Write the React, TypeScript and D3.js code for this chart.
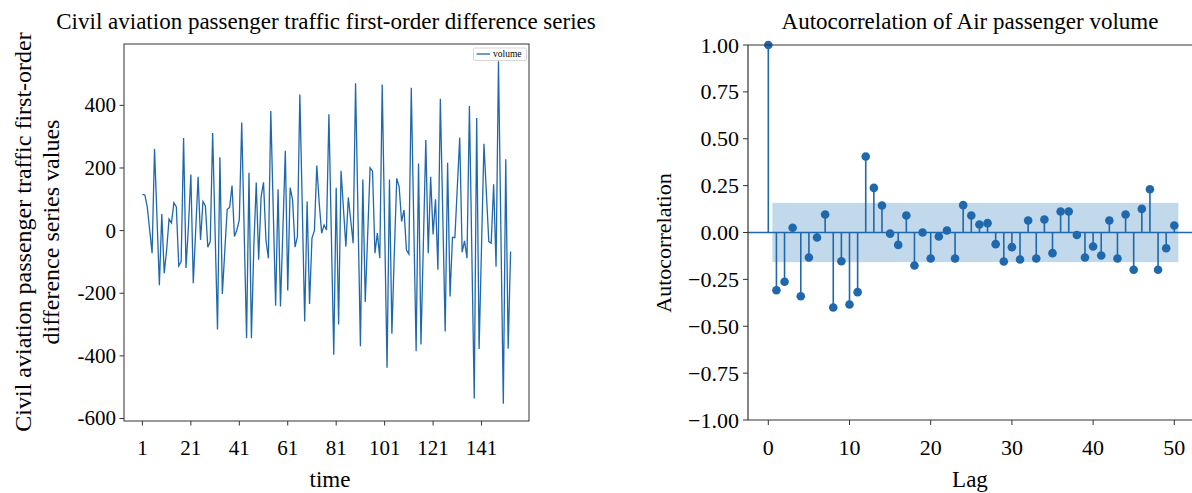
import React from "react";
import * as d3 from "d3";

// ---- Left chart data: first-order difference series (t = 1..153) ----
const diffValues: number[] = [
  116, 114, 76, 2, -72, 261, 45, -174, 53, -136,
  -62, 37, 25, 89, 76, -113, -99, 296, -119, 13,
  179, -168, 2, 172, -30, 93, 79, -53, -35, 312,
  -2, -316, 234, -202, -67, 68, 74, 144, -19, 2,
  34, 345, 1, -344, 185, -344, -51, 154, -93, 108,
  154, -30, -88, 382, 71, -240, 132, -242, 6, 255,
  -191, 137, 98, -53, -19, 435, 76, -290, 93, -234,
  -24, 0, 208, 87, -8, 18, 2, 372, -13, -396,
  137, -300, 191, 70, -51, 106, 33, -40, 471, 51,
  -369, 163, -228, -14, 201, 190, -72, -8, -88, 467,
  13, -438, 163, -329, -72, 167, 140, 29, 66, -62,
  -75, 456, 34, -385, 214, -364, -38, 289, -72, 172,
  -12, 100, -125, 421, 50, -322, 217, -210, -22, -22,
  138, 297, -69, -33, -88, 398, -69, -536, 360, -378,
  -51, 277, 121, -35, -40, 148, -115, 541, -6, -553,
  228, -377, -67,
];
const timeTicks: number[] = [1, 21, 41, 61, 81, 101, 121, 141];
const diffYTicks: number[] = [400, 200, 0, -200, -400, -600];

// ---- Right chart data: autocorrelation, lags 0..50 ----
const acfValues: number[] = [
  1.0, -0.308, -0.263, 0.025, -0.34, -0.133, -0.027, 0.096, -0.4, -0.153,
  -0.384, -0.318, 0.405, 0.238, 0.144, -0.006, -0.066, 0.091, -0.176, 0.0,
  -0.139, -0.021, 0.011, -0.139, 0.146, 0.091, 0.043, 0.05, -0.062, -0.155,
  -0.078, -0.144, 0.064, -0.139, 0.069, -0.11, 0.112, 0.112, -0.013, -0.133,
  -0.075, -0.123, 0.064, -0.139, 0.096, -0.199, 0.126, 0.231, -0.199, -0.084,
  0.037,
];
const confBound = 0.158;
const lagTicks: number[] = [0, 10, 20, 30, 40, 50];
const acfYTicks: number[] = [1, 0.75, 0.5, 0.25, 0, -0.25, -0.5, -0.75, -1];

const FONT = "Liberation Serif";
const BLUE = "#1f68ad";
const AXIS = "#333";

const T = (props: any) => (
  <text fontFamily={FONT} fill="#000" {...props} />
);

export default function App() {
  // left chart scales
  const lx = d3.scaleLinear().domain([-6.6, 160.6]).range([124, 529]);
  const ly = d3.scaleLinear().domain([-608, 596]).range([421, 44]);
  const line = d3
    .line<number>()
    .x((_, i) => lx(i + 1))
    .y((d) => ly(d));

  // right chart scales
  const rx = d3.scaleLinear().domain([-2.5, 52.5]).range([748, 1194.6]);
  const ry = d3.scaleLinear().domain([-1, 1]).range([420, 45]);
  const fmt = d3.format(".2f");

  return (
    <svg
      width={1192}
      height={493}
      style={{ position: "absolute", left: 0, top: 0, background: "#fff" }}
    >
      {/* ---------- LEFT CHART ---------- */}
      <T x={326} y={29} fontSize={23} textAnchor="middle">
        Civil aviation passenger traffic first-order difference series
      </T>
      <path d={line(diffValues) || ""} fill="none" stroke={BLUE} strokeWidth={1.3} />
      <rect x={124} y={44} width={405} height={377} fill="none" stroke={AXIS} strokeWidth={1} />
      {diffYTicks.map((t) => (
        <g key={"ly" + t}>
          <line x1={119.5} x2={124} y1={ly(t)} y2={ly(t)} stroke={AXIS} />
          <T x={116} y={ly(t) + 7} fontSize={21} textAnchor="end">
            {String(t)}
          </T>
        </g>
      ))}
      {timeTicks.map((t) => (
        <g key={"lx" + t}>
          <line x1={lx(t)} x2={lx(t)} y1={421} y2={425.5} stroke={AXIS} />
          <T x={lx(t)} y={455} fontSize={21} textAnchor="middle">
            {t}
          </T>
        </g>
      ))}
      <T x={330} y={487} fontSize={23} textAnchor="middle">
        time
      </T>
      <g transform="translate(31,232) rotate(-90)">
        <T x={0} y={0} fontSize={24} textAnchor="middle">
          Civil aviation passenger traffic first-order
        </T>
      </g>
      <g transform="translate(59,232) rotate(-90)">
        <T x={0} y={0} fontSize={24} textAnchor="middle">
          difference series values
        </T>
      </g>
      {/* legend */}
      <rect x={473.5} y={48} width={53} height={12.5} rx={1.5} fill="#fff" stroke="#ccc" strokeWidth={0.8} />
      <line x1={476.5} x2={490} y1={54} y2={54} stroke={BLUE} strokeWidth={1.3} />
      <T x={493} y={57.3} fontSize={9.5}>
        volume
      </T>

      {/* ---------- RIGHT CHART ---------- */}
      <T x={970} y={29} fontSize={23} textAnchor="middle">
        Autocorrelation of Air passenger volume
      </T>
      <rect
        x={rx(0.5)}
        y={ry(confBound)}
        width={rx(50.5) - rx(0.5)}
        height={ry(-confBound) - ry(confBound)}
        fill="#1f77b4"
        fillOpacity={0.28}
      />
      <line x1={748} x2={1194.6} y1={ry(0)} y2={ry(0)} stroke={BLUE} strokeWidth={1.6} />
      {acfValues.map((v, i) => (
        <g key={"acf" + i}>
          <line x1={rx(i)} x2={rx(i)} y1={ry(0)} y2={ry(v)} stroke={BLUE} strokeWidth={1.6} />
          <circle cx={rx(i)} cy={ry(v)} r={4.3} fill={BLUE} />
        </g>
      ))}
      <line x1={748} x2={748} y1={45} y2={420} stroke={AXIS} strokeWidth={1.2} />
      <line x1={748} x2={1194.6} y1={45} y2={45} stroke={AXIS} strokeWidth={1.2} />
      <line x1={748} x2={1194.6} y1={420} y2={420} stroke={AXIS} strokeWidth={1.2} />
      {acfYTicks.map((t) => (
        <g key={"ry" + t}>
          <line x1={743} x2={748} y1={ry(t)} y2={ry(t)} stroke={AXIS} />
          <T x={739} y={ry(t) + 7.5} fontSize={22} textAnchor="end">
            {fmt(t)}
          </T>
        </g>
      ))}
      {lagTicks.map((t) => (
        <g key={"rx" + t}>
          <line x1={rx(t)} x2={rx(t)} y1={420} y2={425} stroke={AXIS} />
          <T x={rx(t)} y={455} fontSize={22} textAnchor="middle">
            {t}
          </T>
        </g>
      ))}
      <T x={970} y={487} fontSize={23} textAnchor="middle">
        Lag
      </T>
      <g transform="translate(671,243) rotate(-90)">
        <T x={0} y={0} fontSize={22} textAnchor="middle">
          Autocorrelation
        </T>
      </g>
    </svg>
  );
}
